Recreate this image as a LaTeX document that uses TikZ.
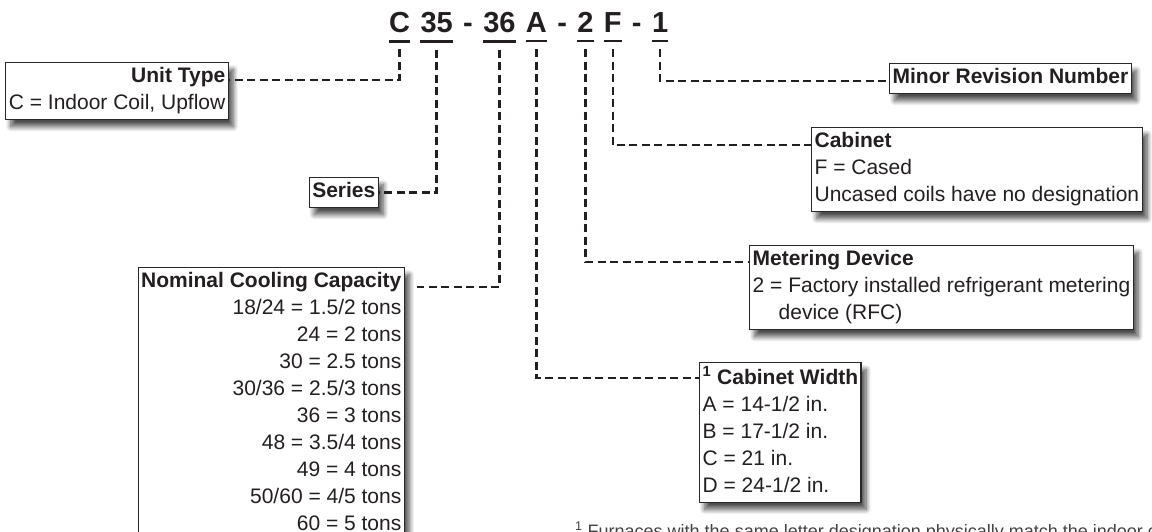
\documentclass[tikz,border=0pt]{standalone}
\usepackage{fontspec}
\setmainfont{Liberation Sans}
\usetikzlibrary{positioning,shadows.blur}
\definecolor{inkgray}{RGB}{35,31,32}
\definecolor{framegray}{RGB}{40,40,40}
\newcommand{\keytop}{\rule{0pt}{16pt}}
\tikzset{
  code/.style={font=\fontsize{29}{32}\selectfont\bfseries, text=inkgray, inner sep=0pt},
  uline/.style={line width=2.4pt, inkgray},
  leader/.style={line width=2.4pt, inkgray, dash pattern=on 8pt off 4.5pt},
  keybox/.style={draw=framegray, line width=1.3pt, fill=white, text=inkgray,
                 font=\fontsize{21}{27}\selectfont, text depth=6pt,
                 inner xsep=3pt, inner ysep=4pt,
                 blur shadow={shadow xshift=5pt, shadow yshift=-7pt, shadow blur radius=5pt,
                              shadow blur steps=12, shadow opacity=70}},
  keyleft/.style={keybox, align=left},
  keyright/.style={keybox, align=right},
  note/.style={font=\fontsize{18}{22}\selectfont, text=inkgray!85, inner sep=0pt},
}

\begin{document}
\begin{tikzpicture}[x=1pt, y=-1pt, node distance=10pt]
\useasboundingbox (0,0) rectangle (1152,532);
\clip (0,0) rectangle (1152,532);
% model number
\node[code, anchor=base west] (uC) at (389,33) {C};
\node[code, base right=of uC] (u35) {35};
\node[code, base right=of u35] (d1) {-};
\node[code, base right=of d1] (u36) {36};
\node[code, base right=of u36] (uA) {A};
\node[code, base right=of uA] (d2) {-};
\node[code, base right=of d2] (u2) {2};
\node[code, base right=of u2] (uF) {F};
\node[code, base right=of uF] (d3) {-};
\node[code, base right=of d3] (u1) {1};
\foreach \n in {uC,u35,u36,uA,u2,uF,u1}
  \draw[uline] ([yshift=-8pt]\n.south west) -- ([yshift=-8pt]\n.south east);

% left keys
\node[keyright, anchor=north east] (unit) at (229,62) {\keytop\textbf{Unit Type}\\C = Indoor Coil, Upflow};
\node[keyright, anchor=north east] (series) at (379,177) {\keytop\textbf{Series}};
\node[keyright, anchor=north east] (nominal) at (405,267)
 {\keytop\textbf{Nominal Cooling Capacity}\\18/24 = 1.5/2 tons\\24 = 2 tons\\30 = 2.5 tons\\
  30/36 = 2.5/3 tons\\36 = 3 tons\\48 = 3.5/4 tons\\49 = 4 tons\\50/60 = 4/5 tons\\
  60 = 5 tons\\ \mbox{}};

% right keys
\node[keyleft, anchor=north west] (minor) at (889,63) {\keytop\textbf{Minor Revision Number}};
\node[keyleft, anchor=north west] (cabinet) at (811,127)
 {\keytop\textbf{Cabinet}\\F = Cased\\Uncased coils have no designation};
\node[keyleft, anchor=north west] (metering) at (749,245)
 {\keytop\textbf{Metering Device}\\2 = Factory installed refrigerant metering\\\hspace*{26pt}device (RFC)};
\node[keyleft, anchor=north west] (width) at (699,362)
 {\keytop\textbf{\textsuperscript{1} Cabinet Width}\\A = 14-1/2 in.\\B = 17-1/2 in.\\C = 21 in.\\D = 24-1/2 in.};

\node[note, anchor=base west] (foot) at (575,537)
 {\textsuperscript{1} Furnaces with the same letter designation physically match the indoor coil};

% leaders
\draw[leader] ([yshift=-16pt]uC.south) |- ([yshift=-18pt]unit.north east);
\draw[leader] ([yshift=-16pt]u35.south) |- (series.east);
\draw[leader, shorten >=12pt] ([yshift=-16pt]u36.south) |- ([yshift=-20pt]nominal.north east);
\draw[leader] ([yshift=-16pt]uA.south) |- ([yshift=-16pt]width.north west);
\draw[leader] ([yshift=-16pt]u2.south) |- ([yshift=-17pt]metering.north west);
\draw[leader] ([yshift=-16pt]uF.south) |- ([yshift=-18pt]cabinet.north west);
\draw[leader] ([yshift=-16pt]u1.south) |- ([yshift=-18pt]minor.north west);
\end{tikzpicture}
\end{document}
